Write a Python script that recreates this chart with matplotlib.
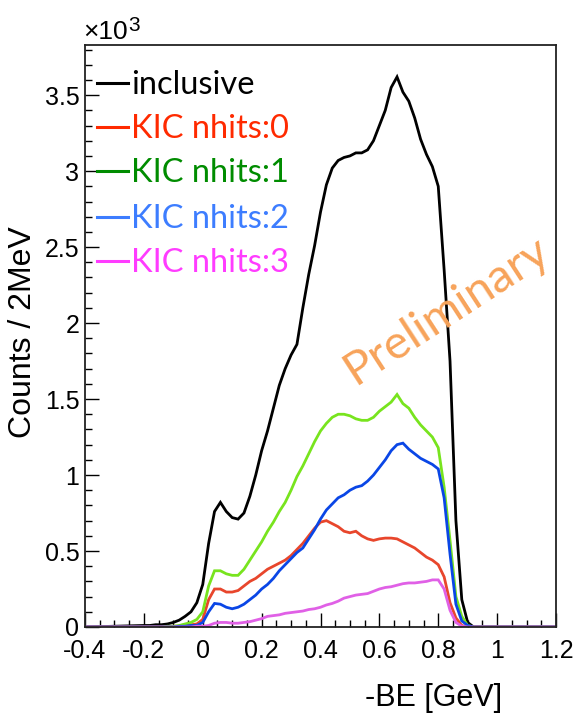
import numpy as np
import matplotlib.pyplot as plt
from matplotlib.lines import Line2D
from matplotlib.ticker import MultipleLocator, FuncFormatter

plt.rcParams['font.family'] = 'Liberation Sans'
plt.rcParams['axes.unicode_minus'] = False

# -BE sampling points [GeV]; counts per 2 MeV in units of 10^3
be = np.round(np.arange(-0.20, 0.9201, 0.02), 2)

inclusive = [0.01, 0.01, 0.015, 0.015, 0.02, 0.03, 0.045, 0.07, 0.10, 0.16,
             0.28, 0.55, 0.76, 0.82, 0.76, 0.72, 0.71, 0.75, 0.86, 1.00,
             1.16, 1.29, 1.44, 1.59, 1.70, 1.79, 1.86, 2.10, 2.32, 2.51,
             2.73, 2.91, 3.02, 3.07, 3.09, 3.10, 3.12, 3.12, 3.14, 3.20,
             3.30, 3.40, 3.55, 3.62, 3.52, 3.46, 3.35, 3.21, 3.11, 3.03,
             2.90, 2.35, 1.75, 0.70, 0.18, 0.03, 0.0]
nhits0 = [0, 0, 0, 0, 0, 0.005, 0.005, 0.01, 0.015, 0.02,
          0.05, 0.18, 0.25, 0.25, 0.23, 0.23, 0.24, 0.27, 0.30, 0.32,
          0.35, 0.38, 0.40, 0.42, 0.44, 0.47, 0.51, 0.55, 0.60, 0.65,
          0.69, 0.70, 0.68, 0.66, 0.63, 0.62, 0.63, 0.60, 0.58, 0.57,
          0.58, 0.585, 0.585, 0.58, 0.56, 0.54, 0.52, 0.49, 0.46, 0.44,
          0.41, 0.33, 0.16, 0.06, 0.01, 0.0, 0.0]
nhits1 = [0, 0, 0, 0, 0.005, 0.005, 0.01, 0.02, 0.03, 0.05,
          0.10, 0.27, 0.37, 0.37, 0.35, 0.34, 0.34, 0.38, 0.44, 0.50,
          0.56, 0.63, 0.69, 0.76, 0.82, 0.90, 0.99, 1.06, 1.14, 1.22,
          1.29, 1.34, 1.38, 1.40, 1.40, 1.39, 1.37, 1.36, 1.36, 1.38,
          1.42, 1.45, 1.48, 1.53, 1.47, 1.44, 1.38, 1.33, 1.29, 1.25,
          1.18, 0.92, 0.57, 0.20, 0.07, 0.01, 0.0]
nhits2 = [0, 0, 0, 0, 0, 0, 0.005, 0.005, 0.01, 0.01,
          0.03, 0.10, 0.155, 0.15, 0.13, 0.12, 0.13, 0.15, 0.18, 0.21,
          0.25, 0.28, 0.32, 0.37, 0.41, 0.45, 0.49, 0.52, 0.58, 0.64,
          0.71, 0.77, 0.81, 0.85, 0.87, 0.90, 0.92, 0.93, 0.96, 1.00,
          1.05, 1.10, 1.16, 1.20, 1.21, 1.17, 1.14, 1.11, 1.09, 1.07,
          1.04, 0.85, 0.48, 0.15, 0.04, 0.01, 0.0]
nhits3 = [0, 0, 0, 0, 0, 0, 0, 0, 0, 0.005,
          0.005, 0.01, 0.025, 0.03, 0.03, 0.025, 0.025, 0.03, 0.035, 0.045,
          0.055, 0.07, 0.075, 0.08, 0.09, 0.095, 0.10, 0.105, 0.115, 0.12,
          0.13, 0.145, 0.155, 0.17, 0.19, 0.20, 0.21, 0.215, 0.22, 0.235,
          0.25, 0.26, 0.265, 0.275, 0.285, 0.29, 0.29, 0.295, 0.30, 0.31,
          0.31, 0.25, 0.11, 0.03, 0.005, 0.0, 0.0]

labels = ['inclusive', 'KIC nhits:0', 'KIC nhits:1', 'KIC nhits:2', 'KIC nhits:3']
counts = [inclusive, nhits0, nhits1, nhits2, nhits3]
hist_colors = ['black', '#e8462c', '#78e41e', '#0a46e6', '#e060e6']
text_colors = ['black', '#ff2a00', '#008c00', '#3d7dff', '#ff3cff']

x_lo, x_hi = -0.4, 1.2
y_hi = 3.83

W, H = 576, 717
fig = plt.figure(figsize=(W / 100, H / 100), dpi=100)
ax = fig.add_axes([85 / W, 1 - 627 / H, (556 - 85) / W, (627 - 45) / H])

for vals, c in zip(counts, hist_colors):
    x = np.concatenate([[x_lo], be, [x_hi]])
    y = np.concatenate([[0], vals, [0]])
    ax.plot(x, y, color=c, lw=2.0, solid_joinstyle='miter')

ax.set_xlim(x_lo, x_hi)
ax.set_ylim(0, y_hi)
ax.xaxis.set_major_locator(MultipleLocator(0.2))
ax.xaxis.set_minor_locator(MultipleLocator(0.05))
ax.yaxis.set_major_locator(MultipleLocator(0.5))
ax.yaxis.set_minor_locator(MultipleLocator(0.1))
fmt = FuncFormatter(lambda v, p: '%g' % round(v, 2))
ax.xaxis.set_major_formatter(fmt)
ax.yaxis.set_major_formatter(fmt)
ax.tick_params(which='both', direction='in', top=False, right=False,
               labelsize=18, width=1.0)
ax.tick_params(which='major', length=10)
ax.tick_params(which='minor', length=5)
ax.tick_params(axis='x', pad=9)
ax.tick_params(axis='y', pad=4)
for s in ax.spines.values():
    s.set_linewidth(1.3)
    s.set_color('#222222')


def fx(px):
    return px / W


def fy(py):
    return 1 - py / H


# legend drawn by hand, line + coloured text
rows = [83, 127, 171, 217, 261]
for lab, lc, py in zip(labels, text_colors, rows):
    fig.add_artist(Line2D([fx(97), fx(128)], [fy(py), fy(py)], color=lc,
                          lw=2.2, transform=fig.transFigure))
    fig.text(fx(131), fy(py + 11), lab, color=lc, fontsize=23.5,
             family='Lato', va='baseline', ha='left')

fig.text(fx(83), fy(39), '×10', fontsize=19, va='baseline', ha='left')
fig.text(fx(128), fy(31), '3', fontsize=15, va='baseline', ha='left')

fig.text(fx(502), fy(706), '-BE [GeV]', fontsize=22, ha='right', va='baseline')
fig.text(fx(23), fy(332), 'Counts / 2MeV', fontsize=23, rotation=90,
         ha='center', va='center')

fig.text(fx(447), fy(310), 'Preliminary', fontsize=34, family='Lato',
         color='#f7a35a', rotation=33, rotation_mode='anchor',
         ha='center', va='center')

fig.savefig('out.png', dpi=100)
